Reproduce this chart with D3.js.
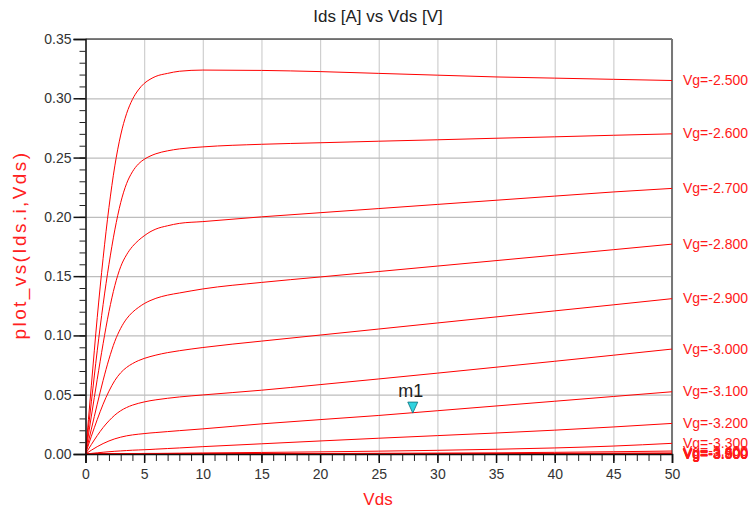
<!DOCTYPE html>
<html>
<head>
<meta charset="utf-8">
<script src="https://cdn.jsdelivr.net/npm/d3@7"></script>
<style>
  body { margin: 0; background: #fff; }
  svg { display: block; font-family: "Liberation Sans", Arial, sans-serif; }
</style>
</head>
<body>
<svg id="chart" width="750" height="517"></svg>
<script>
// Vds sample points (V)
var vds = [0, 0.5, 1, 1.5, 2, 2.5, 3, 3.5, 4, 4.5, 5, 5.5, 6, 7, 8, 10, 15, 20, 25, 30, 35, 40, 45, 50];

// gate voltages, one curve each
var vgLabels = ["Vg=-2.500", "Vg=-2.600", "Vg=-2.700", "Vg=-2.800", "Vg=-2.900", "Vg=-3.000",
  "Vg=-3.100", "Vg=-3.200", "Vg=-3.300", "Vg=-3.400", "Vg=-3.500", "Vg=-3.600",
  "Vg=-3.700", "Vg=-3.800", "Vg=-3.900"];

// Ids (A), one array per Vg
var ids_m2500 = [0, 0.058, 0.115, 0.165, 0.208, 0.243, 0.269, 0.287, 0.299, 0.307, 0.3125, 0.316, 0.3185, 0.321, 0.3228, 0.3238, 0.3235, 0.3225, 0.321, 0.3195, 0.318, 0.317, 0.316, 0.315];
var ids_m2600 = [0, 0.044, 0.087, 0.126, 0.160, 0.189, 0.212, 0.228, 0.238, 0.2445, 0.2485, 0.2512, 0.2532, 0.2557, 0.2573, 0.259, 0.2612, 0.2625, 0.2638, 0.265, 0.2663, 0.2675, 0.2688, 0.270];
var ids_m2700 = [0, 0.032, 0.063, 0.093, 0.120, 0.142, 0.158, 0.168, 0.175, 0.180, 0.184, 0.1873, 0.1897, 0.1925, 0.1945, 0.196, 0.200, 0.2035, 0.207, 0.2105, 0.214, 0.2175, 0.221, 0.224];
var ids_m2800 = [0, 0.021, 0.042, 0.062, 0.080, 0.095, 0.106, 0.114, 0.1195, 0.1235, 0.1268, 0.1293, 0.1313, 0.134, 0.1358, 0.1392, 0.1447, 0.1493, 0.1539, 0.1585, 0.1631, 0.1677, 0.1723, 0.177];
var ids_m2900 = [0, 0.015, 0.029, 0.042, 0.053, 0.062, 0.0685, 0.073, 0.0762, 0.0787, 0.0806, 0.0821, 0.0834, 0.0855, 0.0871, 0.0898, 0.0952, 0.1003, 0.1054, 0.1105, 0.1156, 0.1207, 0.1258, 0.131];
var ids_m3000 = [0, 0.008, 0.0155, 0.0223, 0.028, 0.0328, 0.0365, 0.0392, 0.0412, 0.0427, 0.0439, 0.0449, 0.0457, 0.047, 0.0481, 0.0498, 0.0538, 0.0585, 0.0633, 0.0682, 0.0732, 0.0782, 0.0833, 0.0885];
var ids_m3100 = [0, 0.0032, 0.0062, 0.0088, 0.011, 0.0128, 0.0142, 0.0153, 0.0161, 0.0167, 0.0172, 0.0177, 0.0181, 0.0189, 0.0197, 0.0212, 0.0254, 0.029, 0.0325, 0.0365, 0.0405, 0.0445, 0.0485, 0.0525];
var ids_m3200 = [0, 0.0005, 0.001, 0.0015, 0.0019, 0.0023, 0.0026, 0.0029, 0.0032, 0.0034, 0.0036, 0.0038, 0.0041, 0.0046, 0.0051, 0.0062, 0.0086, 0.011, 0.0133, 0.0155, 0.0177, 0.0201, 0.0228, 0.0258];
var ids_m3300 = [0, 0.0001, 0.0002, 0.0002, 0.0003, 0.0003, 0.0003, 0.0004, 0.0004, 0.0004, 0.0005, 0.0005, 0.0005, 0.0006, 0.0007, 0.0009, 0.0013, 0.0018, 0.0024, 0.0031, 0.0040, 0.0051, 0.0067, 0.009];
var ids_m3400 = [0, 0, 0.0001, 0.0001, 0.0001, 0.0001, 0.0001, 0.0001, 0.0001, 0.0001, 0.0001, 0.0001, 0.0001, 0.0002, 0.0002, 0.0002, 0.0003, 0.0004, 0.0006, 0.0008, 0.0010, 0.0014, 0.0019, 0.0025];
var ids_m3500 = [0, 0, 0, 0, 0, 0, 0, 0, 0, 0, 0, 0, 0, 0.0001, 0.0001, 0.0001, 0.0001, 0.0002, 0.0002, 0.0003, 0.0004, 0.0005, 0.0007, 0.0009];
var ids_m3600 = [0, 0, 0, 0, 0, 0, 0, 0, 0, 0, 0, 0, 0, 0, 0, 0, 0, 0.0001, 0.0001, 0.0001, 0.0001, 0.0002, 0.0002, 0.0003];
var ids_m3700 = [0, 0, 0, 0, 0, 0, 0, 0, 0, 0, 0, 0, 0, 0, 0, 0, 0, 0, 0, 0, 0, 0.0001, 0.0001, 0.0001];
var ids_m3800 = [0, 0, 0, 0, 0, 0, 0, 0, 0, 0, 0, 0, 0, 0, 0, 0, 0, 0, 0, 0, 0, 0, 0, 0];
var ids_m3900 = [0, 0, 0, 0, 0, 0, 0, 0, 0, 0, 0, 0, 0, 0, 0, 0, 0, 0, 0, 0, 0, 0, 0, 0];

var idsSeries = [ids_m2500, ids_m2600, ids_m2700, ids_m2800, ids_m2900, ids_m3000, ids_m3100,
  ids_m3200, ids_m3300, ids_m3400, ids_m3500, ids_m3600, ids_m3700, ids_m3800, ids_m3900];

// marker m1 sits on the Vg=-3.1 curve
var markerName = "m1";
var markerVds = 27.9;
var markerIds = 0.0345;

var xTicks = [0, 5, 10, 15, 20, 25, 30, 35, 40, 45, 50];
var yTicks = [0, 0.05, 0.10, 0.15, 0.20, 0.25, 0.30, 0.35];

var svg = d3.select("#chart");
var pLeft = 85.5, pRight = 672, pTop = 39, pBottom = 454;

var x = d3.scaleLinear().domain([0, 50]).range([pLeft, pRight]);
var y = d3.scaleLinear().domain([0, 0.35]).range([pBottom, pTop]);

// grid
svg.append("g")
  .attr("transform", "translate(0," + pBottom + ")")
  .call(d3.axisBottom(x).tickValues(xTicks).tickSize(-(pBottom - pTop)).tickFormat(""))
  .call(function(g) { g.select(".domain").remove(); })
  .selectAll("line").attr("stroke", "#cfcfcf").attr("stroke-width", 1.2);
svg.append("g")
  .attr("transform", "translate(" + pLeft + ",0)")
  .call(d3.axisLeft(y).tickValues(yTicks).tickSize(-(pRight - pLeft)).tickFormat(""))
  .call(function(g) { g.select(".domain").remove(); })
  .selectAll("line").attr("stroke", "#bdbdbd").attr("stroke-width", 1.2);

// frame: top and right
svg.append("line").attr("x1", pLeft).attr("x2", pRight).attr("y1", pTop).attr("y2", pTop)
  .attr("stroke", "#555").attr("stroke-width", 1.5);
svg.append("line").attr("x1", pRight).attr("x2", pRight).attr("y1", pTop).attr("y2", pBottom)
  .attr("stroke", "#777").attr("stroke-width", 2);

// curves
var line = d3.line()
  .x(function(d, i) { return x(vds[i]); })
  .y(function(d) { return y(d); })
  .curve(d3.curveMonotoneX);

svg.append("g").selectAll("path")
  .data(idsSeries)
  .join("path")
  .attr("d", line)
  .attr("fill", "none")
  .attr("stroke", "#ff0000")
  .attr("stroke-width", 1);

// y axis: minor + major ticks
svg.append("g")
  .attr("transform", "translate(" + pLeft + ",0)")
  .call(d3.axisLeft(y).tickValues(d3.range(0, 36).map(function(i) { return i / 100; })).tickSize(6).tickFormat(""))
  .call(function(g) { g.select(".domain").remove(); })
  .selectAll("line").attr("stroke", "#222");
var yAxis = svg.append("g")
  .attr("transform", "translate(" + pLeft + ",0)")
  .call(d3.axisLeft(y).tickValues(yTicks).tickSize(12).tickPadding(2).tickFormat(d3.format(".2f")));
yAxis.select(".domain").attr("stroke", "#111").attr("stroke-width", 1.5);
yAxis.selectAll("line").attr("stroke", "#111").attr("stroke-width", 1.5);
yAxis.selectAll("text").attr("fill", "#333").style("font-size", "14px");

// x axis
svg.append("g")
  .attr("transform", "translate(0," + pBottom + ")")
  .call(d3.axisBottom(x).tickValues(d3.range(0, 51)).tickSize(7).tickFormat(""))
  .call(function(g) { g.select(".domain").remove(); })
  .selectAll("line").attr("stroke", "#222");
var xAxis = svg.append("g")
  .attr("transform", "translate(0," + pBottom + ")")
  .call(d3.axisBottom(x).tickValues(xTicks).tickSize(9).tickPadding(6).tickFormat(d3.format("d")));
xAxis.select(".domain").attr("stroke", "#111").attr("stroke-width", 1.5);
xAxis.selectAll("line").attr("stroke", "#111").attr("stroke-width", 1.5);
xAxis.selectAll("text").attr("fill", "#333").style("font-size", "14px");

// curve labels at the right end
svg.append("g").selectAll("text")
  .data(idsSeries)
  .join("text")
  .attr("x", pRight + 11)
  .attr("y", function(d) { return y(d[d.length - 1]); })
  .attr("dy", "0.33em")
  .attr("fill", "#ff1a1a")
  .style("font-size", "14px")
  .text(function(d, i) { return vgLabels[i]; });

// marker m1
var mx = x(markerVds), my = y(markerIds);
svg.append("path")
  .attr("d", "M" + (mx - 5) + "," + (my - 11) + "L" + (mx + 5) + "," + (my - 11) + "L" + mx + "," + my + "Z")
  .attr("fill", "#2fd3e0").attr("stroke", "#0b6f7a").attr("stroke-width", 0.8);
svg.append("text")
  .attr("x", mx - 2).attr("y", my - 16)
  .attr("text-anchor", "middle")
  .attr("fill", "#222")
  .style("font-size", "18px")
  .text(markerName);

// titles
svg.append("text")
  .attr("x", 378).attr("y", 22)
  .attr("text-anchor", "middle")
  .attr("fill", "#222")
  .style("font-size", "17px")
  .text("Ids [A] vs Vds [V]");
svg.append("text")
  .attr("transform", "translate(26,245) rotate(-90)")
  .attr("text-anchor", "middle")
  .attr("fill", "#ff2020")
  .style("font-size", "19px")
  .style("letter-spacing", "2.4px")
  .text("plot_vs(Ids.i,Vds)");
svg.append("text")
  .attr("x", 378).attr("y", 505)
  .attr("text-anchor", "middle")
  .attr("fill", "#ff2020")
  .style("font-size", "17px")
  .text("Vds");
</script>
</body>
</html>
